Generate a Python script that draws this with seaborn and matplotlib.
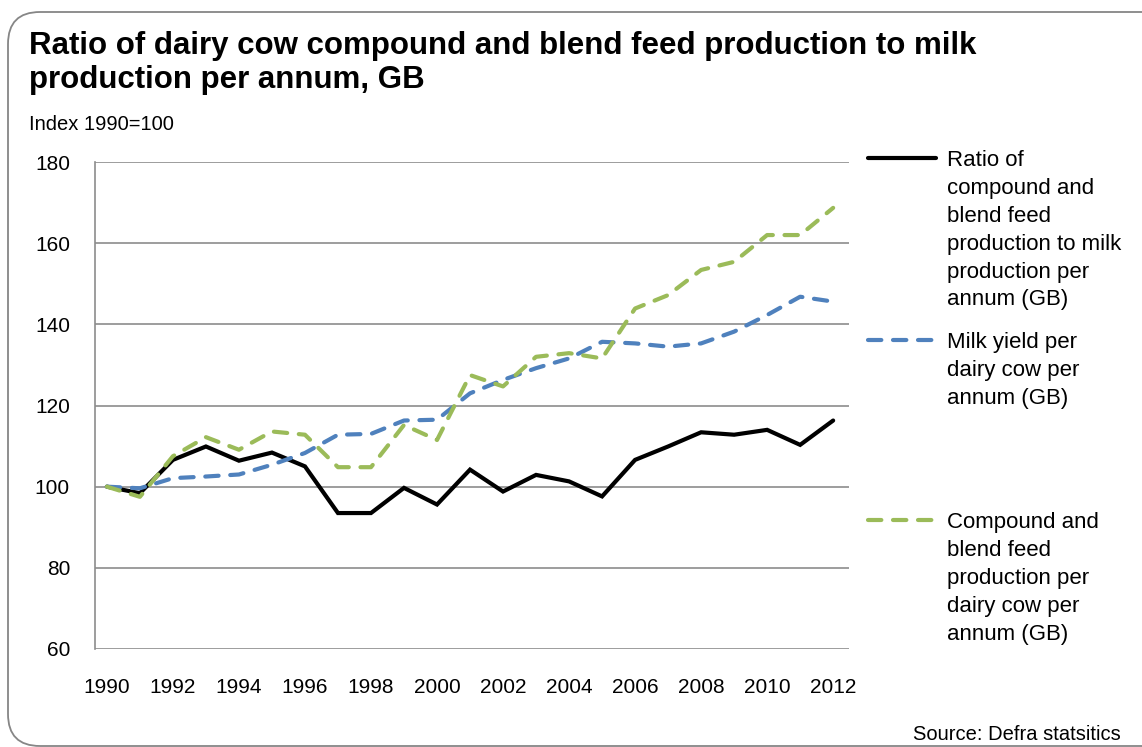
import numpy as np
import pandas as pd
import matplotlib
matplotlib.use("Agg")
import matplotlib.pyplot as plt
import seaborn as sns
from matplotlib.lines import Line2D
from matplotlib.patches import FancyBboxPatch

years = list(range(1990, 2013))
ratio = [100, 98.4, 106.6, 109.9, 106.4, 108.4, 105.0, 93.5, 93.5, 99.7, 95.6,
         104.2, 98.8, 102.9, 101.3, 97.6, 106.6, 109.9, 113.4, 112.8, 114.0, 110.3, 116.3]
milk = [100, 99.6, 102.1, 102.5, 103.0, 105.4, 108.3, 112.8, 113.0, 116.3, 116.5,
        123.0, 126.3, 129.2, 131.6, 135.7, 135.3, 134.5, 135.3, 138.2, 142.3, 146.8, 145.6]
feed = [100, 97.5, 107.5, 112.2, 109.1, 113.6, 112.8, 104.8, 104.8, 115.2, 111.5,
        127.5, 124.7, 132.0, 132.9, 131.6, 143.9, 147.2, 153.4, 155.4, 162.0, 162.0, 168.7]

series_labels = [
    "Ratio of\ncompound and\nblend feed\nproduction to milk\nproduction per\nannum (GB)",
    "Milk yield per\ndairy cow per\nannum (GB)",
    "Compound and\nblend feed\nproduction per\ndairy cow per\nannum (GB)",
]
title = "Ratio of dairy cow compound and blend feed production to milk\nproduction per annum, GB"
y_label = "Index 1990=100"
source = "Source: Defra statsitics"
y_ticks = [60, 80, 100, 120, 140, 160, 180]
x_ticks = list(range(1990, 2013, 2))

sns.set_theme(style="white")
plt.rcParams["font.family"] = ["Liberation Sans", "DejaVu Sans"]

W, H = 1142, 747
fig = plt.figure(figsize=(W / 100, H / 100), dpi=100)
fig.patch.set_facecolor("white")

def fx(x):
    return x / W

def fy(y):
    return 1 - y / H

# rounded border
border = FancyBboxPatch((fx(8), fy(746)), fx(1180) - fx(8), fy(12) - fy(746),
                        boxstyle="round,pad=0,rounding_size=0.028",
                        transform=fig.transFigure, fill=False,
                        edgecolor="#868686", linewidth=1.3, mutation_aspect=W / H)
fig.add_artist(border)

ax = fig.add_axes([fx(95), fy(649), fx(849) - fx(95), fy(162) - fy(649)])

df = pd.DataFrame({"year": years, "ratio": ratio, "milk": milk, "feed": feed})
colors = ["#000000", "#4F81BD", "#9BBB59"]
lw = 3.0
sns.lineplot(data=df, x="year", y="ratio", ax=ax, color=colors[0], linewidth=lw,
             solid_joinstyle="miter", zorder=3)
sns.lineplot(data=df, x="year", y="milk", ax=ax, color=colors[1], linewidth=lw,
             dashes=False, zorder=4)
sns.lineplot(data=df, x="year", y="feed", ax=ax, color=colors[2], linewidth=lw,
             dashes=False, zorder=5)
dash_pattern = (3.2, 2.8)
for ln in ax.get_lines()[1:3]:
    ln.set_linestyle((0, dash_pattern))
    ln.set_dash_capstyle("round")

ax.set_xlim(1989.64, 2012.48)
ax.set_ylim(60, 180)
ax.set_yticks(y_ticks)
ax.set_xticks(x_ticks)
ax.set_xticklabels([str(t) for t in x_ticks])
ax.set_xlabel("")
ax.set_ylabel("")
ax.grid(axis="y", color="#8c8c8c", linewidth=1.2)
ax.grid(axis="x", visible=False)
for s in ["top", "right", "bottom"]:
    ax.spines[s].set_visible(False)
ax.spines["left"].set_color("#8c8c8c")
ax.spines["left"].set_linewidth(1.2)
ax.tick_params(axis="y", length=0, pad=18, labelsize=15, labelcolor="black")
ax.tick_params(axis="x", length=0, pad=21, labelsize=15, labelcolor="black")

# title, axis note, source
fig.text(fx(29), fy(31), title, fontsize=22.5, fontweight="bold", va="top",
         ha="left", linespacing=1.18, color="black")
fig.text(fx(29), fy(130), y_label, fontsize=14.5, va="baseline", ha="left", color="black")
fig.text(fx(1121), fy(740), source, fontsize=14.5, va="baseline", ha="right", color="black")

# legend (handles aligned with first text line, as in the original)
leg_y = [158, 340, 520]
styles = ["-", (0, dash_pattern), (0, dash_pattern)]
for i in range(3):
    h = Line2D([fx(868), fx(936)], [fy(leg_y[i]), fy(leg_y[i])], transform=fig.transFigure,
               color=colors[i], linewidth=lw, linestyle=styles[i],
               dash_capstyle="round")
    fig.add_artist(h)
    fig.text(fx(947), fy(leg_y[i] - 8), series_labels[i], fontsize=16, va="top",
             ha="left", linespacing=1.43, color="black")

fig.savefig("out.png", dpi=100, facecolor="white")
